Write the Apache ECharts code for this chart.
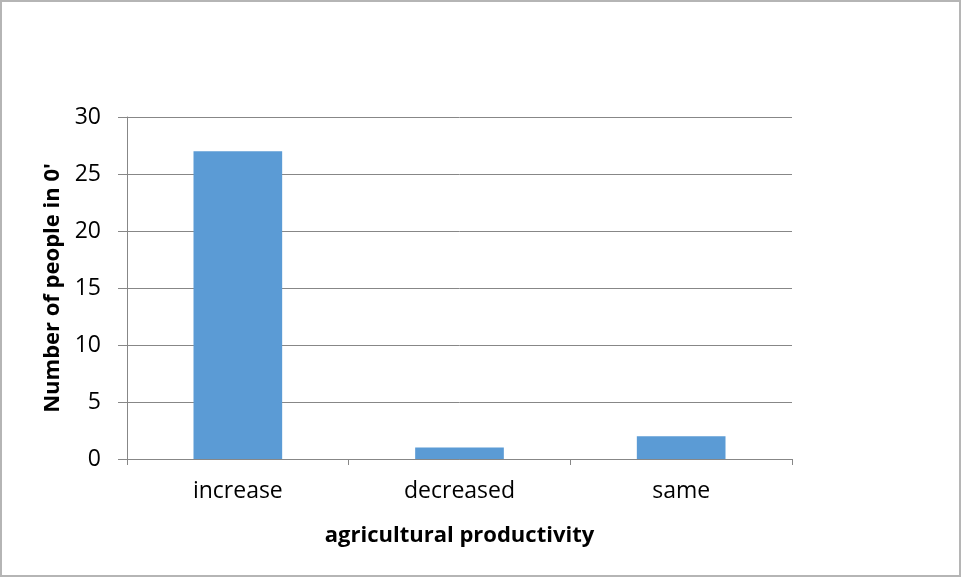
<!DOCTYPE html>
<html>
<head>
<meta charset="utf-8">
<script src="https://cdn.jsdelivr.net/npm/echarts@6/dist/echarts.min.js"></script>
<style>
  html, body { margin: 0; padding: 0; background: #fff; }
  #chart { width: 961px; height: 577px; box-sizing: border-box; border: 2px solid #b5b5b5; }
</style>
</head>
<body>
<div id="chart"></div>
<script>
// Survey responses on agricultural productivity (in tens of people)
const categories = ['increase', 'decreased', 'same'];
const peopleCounts = [27, 1, 2];
const yTicks = [0, 5, 10, 15, 20, 25, 30];

const FONT = '"Open Sans", "Noto Sans", sans-serif';
const chart = echarts.init(document.getElementById('chart'), null, { renderer: 'canvas' });

chart.setOption({
  animation: false,
  backgroundColor: '#ffffff',
  grid: { left: 125, right: 167, top: 115, bottom: 116 },
  xAxis: {
    type: 'category',
    data: categories,
    name: 'agricultural productivity',
    nameLocation: 'middle',
    nameGap: 66,
    nameTextStyle: { fontFamily: FONT, fontSize: 22, fontWeight: 'bold', color: '#000' },
    axisLine: { lineStyle: { color: '#878787', width: 1 } },
    axisTick: { show: true, length: 6, lineStyle: { color: '#878787' }, alignWithLabel: false },
    axisLabel: { fontFamily: FONT, fontSize: 23, color: '#000', margin: 21 }
  },
  yAxis: {
    type: 'value',
    min: yTicks[0],
    max: yTicks[yTicks.length - 1],
    interval: yTicks[1] - yTicks[0],
    name: "Number of people in 0'",
    nameLocation: 'middle',
    nameGap: 63,
    nameTextStyle: { fontFamily: FONT, fontSize: 22, fontWeight: 'bold', color: '#000' },
    axisLine: { show: true, lineStyle: { color: '#878787', width: 1 } },
    axisTick: { show: true, length: 9, lineStyle: { color: '#878787' } },
    axisLabel: { fontFamily: FONT, fontSize: 23, color: '#000', margin: 26 },
    splitLine: { show: true, lineStyle: { color: '#878787', width: 1 } }
  },
  series: [{
    type: 'bar',
    data: peopleCounts,
    barWidth: '40%',
    itemStyle: { color: '#5b9bd5' }
  }]
});
</script>
</body>
</html>
